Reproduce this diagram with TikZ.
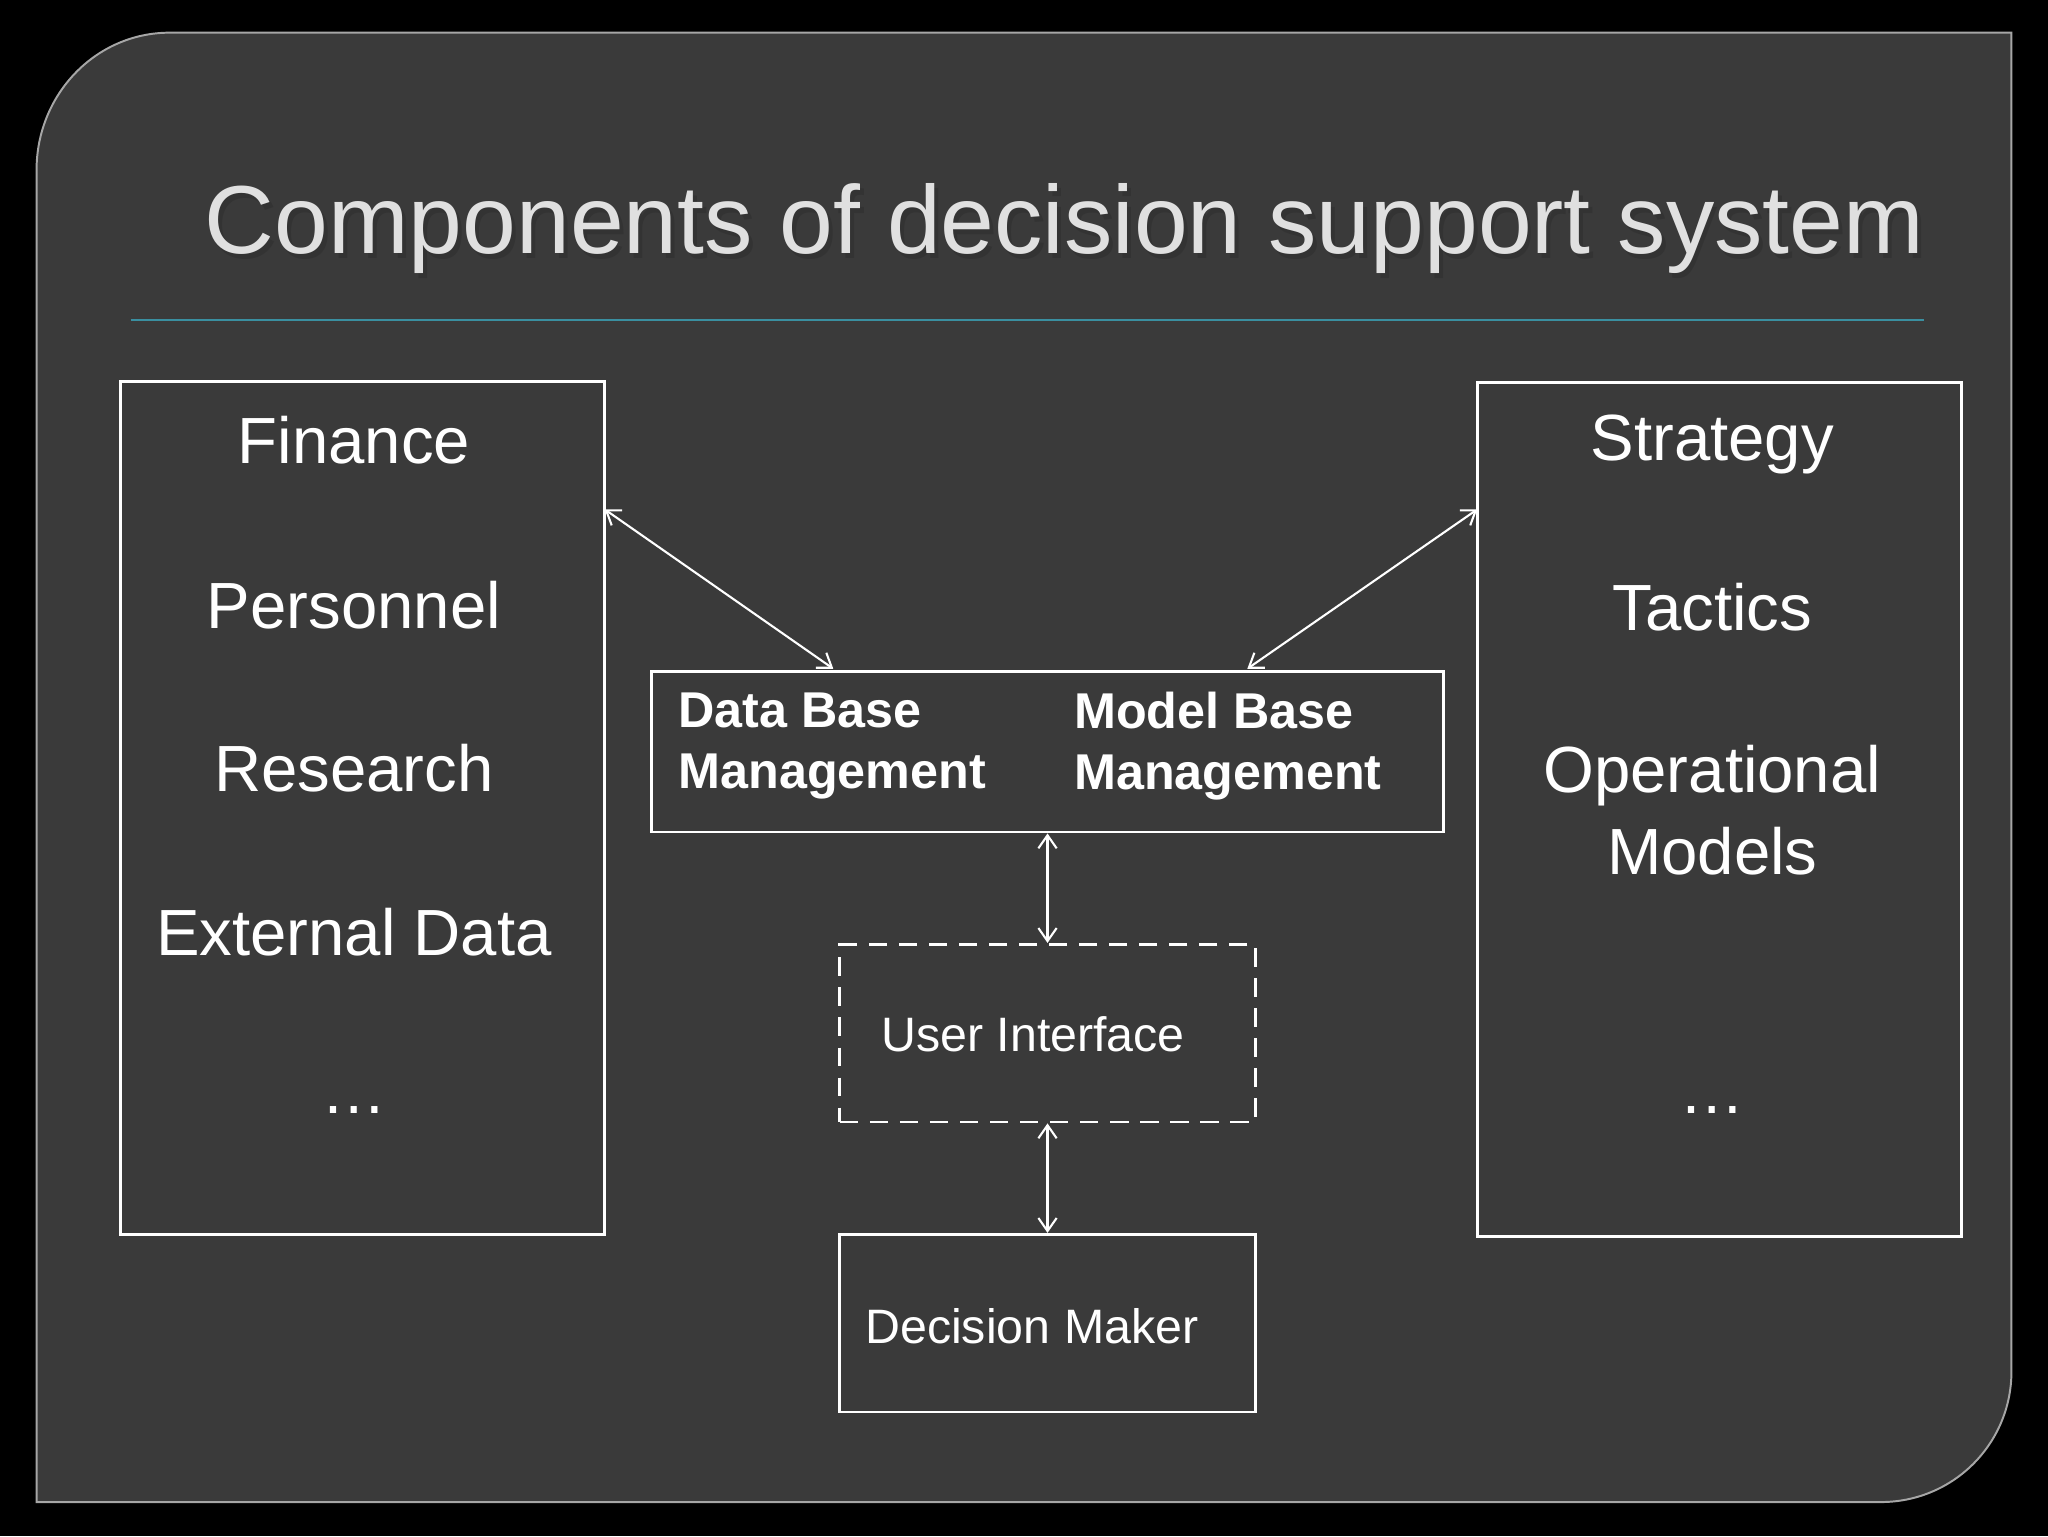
\documentclass[tikz,border=0pt]{standalone}
\usepackage{fontspec}
\setmainfont{Liberation Sans}
\usetikzlibrary{arrows.meta}
\definecolor{slide}{HTML}{3A3A3A}
\definecolor{rule}{HTML}{3A8FA0}
\tikzset{
  box/.style={draw=white,line width=2.2pt,inner sep=0pt},
  big/.style={text=white,font=\fontsize{50}{63}\selectfont,align=center},
  mid/.style={text=white,font=\fontsize{37}{46}\selectfont},
  bmid/.style={text=white,font=\fontsize{38.5}{47}\selectfont\bfseries,align=left,anchor=west},
  link/.style={draw=white,line width=1.6pt,{Straight Barb[length=10pt,width=14pt]}-{Straight Barb[length=10pt,width=14pt]}}
}
\begin{document}
\begin{tikzpicture}[x=1pt,y=-1pt]
\useasboundingbox (0,0) rectangle (1568,1176);
\fill[black] (0,0) rectangle (1568,1176);
\draw[fill=slide,draw=gray!70,line width=1.5pt] (28,130) to[out=90,in=180] (130,25) -- (1540,25) -- (1540,1050) to[out=-90,in=0] (1440,1150) -- (28,1150) -- cycle;
\node[text=black!80,font=\fontsize{74}{80}\selectfont] at (818,179) {Components of decision support system};
\node (title) [text=white!88!black,font=\fontsize{74}{80}\selectfont] at (815,175) {Components of decision support system};
\draw[rule,line width=1.5pt] (100,245) -- (1473,245);
% left
\node (L) [box,minimum width=371pt,minimum height=653pt] at (277.5,618.5) {};
\node[big] at (271,337) {Finance};
\node[big] at (271,463) {Personnel};
\node[big] at (271,588) {Research};
\node[big] at (271,714) {External Data};
\node[big] at (271,850) {…};
% right
\node (R) [box,minimum width=371pt,minimum height=654pt] at (1316.5,620) {};
\node[big] at (1311,340) {Strategy};
\node[big] at (1311,465) {Tactics};
\node[big] at (1311,620) {Operational\\Models};
\node[big] at (1311,850) {…};
% middle
\node (M) [box,minimum width=606pt,minimum height=123pt] at (802,575.5) {};
\node[bmid] at (516,571) {Data Base\\Management};
\node[bmid] at (819,571) {Model Base\\Management};
\node (U) [box,dashed,dash pattern=on 14pt off 9pt,minimum width=318pt,minimum height=136pt] at (802,791) {};
\node[mid] at (791,792) {User Interface};
\node (D) [box,minimum width=318pt,minimum height=136pt] at (802,1013) {};
\node[mid] at (790,1015) {Decision Maker};
% connectors
\coordinate (a1) at (463,390); \coordinate (a2) at (638,512);
\coordinate (b1) at (1131,390); \coordinate (b2) at (955,512);
\draw[link] (a1) -- (a2);
\draw[link] (b1) -- (b2);
\draw[link] (M.south) -- (U.north);
\draw[link] (U.south) -- (D.north);
\end{tikzpicture}
\end{document}
